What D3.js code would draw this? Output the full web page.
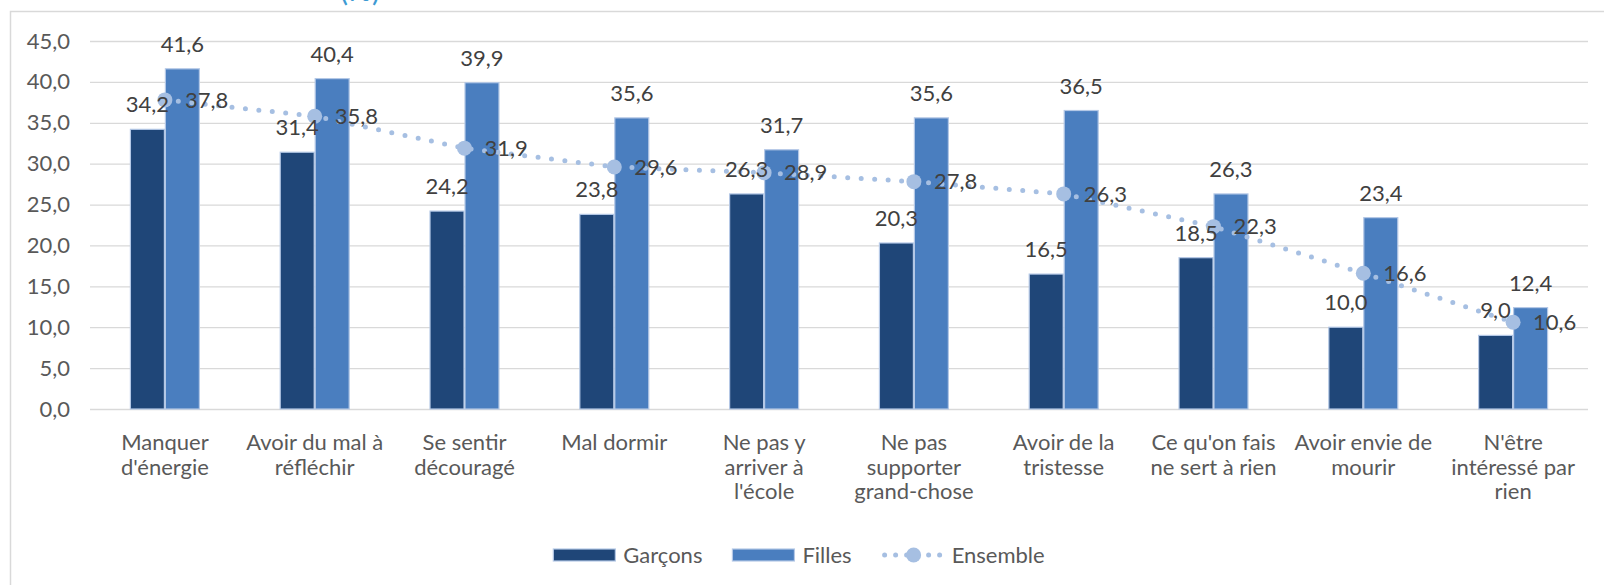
<!DOCTYPE html>
<html lang="fr">
<head>
<meta charset="utf-8">
<title>Symptômes dépressifs</title>
<script src="https://cdn.jsdelivr.net/npm/d3@7"></script>
<style>
  body { margin: 0; background: #fff; }
  svg { display: block; font-family: Lato, "Open Sans", sans-serif; }
  .grid line { stroke: #d9d9d9; stroke-width: 1.3px; }
  .axis text { fill: #595959; font-size: 22px; font-family: Lato, "Open Sans", sans-serif; }
  .lbl { fill: #404040; font-size: 22px; }
  .legend text { fill: #595959; font-size: 22px; }
</style>
</head>
<body>
<script>
var categories = [
  "Manquer\nd'énergie",
  "Avoir du mal à\nréfléchir",
  "Se sentir\ndécouragé",
  "Mal dormir",
  "Ne pas y\narriver à\nl'école",
  "Ne pas\nsupporter\ngrand-chose",
  "Avoir de la\ntristesse",
  "Ce qu'on fais\nne sert à rien",
  "Avoir envie de\nmourir",
  "N'être\nintéressé par\nrien"
];
var garcons  = [34.2, 31.4, 24.2, 23.8, 26.3, 20.3, 16.5, 18.5, 10.0, 9.0];
var filles   = [41.6, 40.4, 39.9, 35.6, 31.7, 35.6, 36.5, 26.3, 23.4, 12.4];
var ensemble = [37.8, 35.8, 31.9, 29.6, 28.9, 27.8, 26.3, 22.3, 16.6, 10.6];
var yTicks = [0, 5, 10, 15, 20, 25, 30, 35, 40, 45];
var seriesNames = ["Garçons", "Filles", "Ensemble"];

var width = 1604, height = 585;
var plotLeft = 90, plotRight = 1588, plotTop = 41, plotBottom = 409;
var colors = { "Garçons": "#1f4678", "Filles": "#4a7ebf", "Ensemble": "#a6bfe2" };
var fmt = function(v){ return d3.format(".1f")(v).replace(".", ","); };

var svg = d3.select("body").append("svg")
    .attr("width", width)
    .attr("height", height);

// frame of the chart area (cut by the window)
svg.append("rect")
    .attr("x", 10.5).attr("y", 11.5)
    .attr("width", 1700).attr("height", 700)
    .attr("fill", "none")
    .attr("stroke", "#d9d9d9")
    .attr("stroke-width", 1.5);

// title, mostly outside the picture
svg.append("text")
    .attr("x", 380).attr("y", 1)
    .attr("text-anchor", "end")
    .attr("fill", "#3d9ad3")
    .style("font-size", "30px")
    .text("(%)");

var x0 = d3.scaleBand().domain(d3.range(categories.length)).range([plotLeft, plotRight]).paddingInner(0.533).paddingOuter(0.2665);
var x1 = d3.scaleBand().domain(["Garçons", "Filles"]).range([0, x0.bandwidth()]);
var y = d3.scaleLinear().domain([0, 45]).range([plotBottom, plotTop]);

var yAxis = d3.axisLeft(y)
    .tickValues(yTicks)
    .tickSize(-(plotRight - plotLeft))
    .tickPadding(20)
    .tickFormat(fmt);

svg.append("g")
    .attr("class", "y axis grid")
    .attr("transform", "translate(" + plotLeft + ",0)")
    .call(yAxis)
    .call(function(g){ g.select(".domain").remove(); });

var xAxis = d3.axisBottom(x0).tickSize(0).tickFormat(function(i){ return categories[i]; });

svg.append("g")
    .attr("class", "x axis")
    .attr("transform", "translate(0," + plotBottom + ")")
    .call(xAxis)
    .call(function(g){ g.select(".domain").remove(); })
    .selectAll(".tick text")
    .each(function(i){
      var t = d3.select(this);
      var lines = categories[i].split("\n");
      t.text("").attr("y", 41).attr("dy", null);
      lines.forEach(function(l, k){
        t.append("tspan").attr("x", 0).attr("dy", k ? 24.5 : 0).text(l);
      });
    });

// bars
var barData = function(i){ return [{k: "Garçons", v: garcons[i]}, {k: "Filles", v: filles[i]}]; };

var groups = svg.append("g").selectAll("g")
    .data(categories.map(function(c, i){ return i; }))
    .enter().append("g")
    .attr("transform", function(i){ return "translate(" + x0(i) + ",0)"; });

groups.selectAll("rect")
    .data(barData)
    .enter().append("rect")
    .attr("x", function(d){ return x1(d.k) + 0.5; })
    .attr("y", function(d){ return y(d.v); })
    .attr("width", x1.bandwidth() - 1)
    .attr("height", function(d){ return plotBottom - y(d.v); })
    .attr("fill", function(d){ return colors[d.k]; })
    .attr("stroke", "#b4c8e6")
    .attr("stroke-width", 1.2);

// ensemble line
var cx = function(i){ return x0(i) + x0.bandwidth() / 2; };
var line = d3.line().x(function(d, i){ return cx(i); }).y(function(d){ return y(d); });

svg.append("path")
    .datum(ensemble)
    .attr("d", line)
    .attr("fill", "none")
    .attr("stroke", colors["Ensemble"])
    .attr("stroke-width", 5)
    .attr("stroke-linecap", "round")
    .attr("stroke-dasharray", "0 13.5");

svg.append("g").selectAll("circle")
    .data(ensemble)
    .enter().append("circle")
    .attr("cx", function(d, i){ return cx(i); })
    .attr("cy", function(d){ return y(d); })
    .attr("r", 7.5)
    .attr("fill", colors["Ensemble"]);

// data labels on top of everything
var labelGroups = svg.append("g").selectAll("g")
    .data(categories.map(function(c, i){ return i; }))
    .enter().append("g")
    .attr("transform", function(i){ return "translate(" + x0(i) + ",0)"; });

labelGroups.selectAll("text")
    .data(barData)
    .enter().append("text")
    .attr("class", "lbl")
    .attr("x", function(d){ return x1(d.k) + x1.bandwidth() / 2; })
    .attr("y", function(d){ return y(d.v) - 17; })
    .attr("text-anchor", "middle")
    .text(function(d){ return fmt(d.v); });

svg.append("g").selectAll("text")
    .data(ensemble)
    .enter().append("text")
    .attr("class", "lbl")
    .attr("x", function(d, i){ return cx(i) + 20; })
    .attr("y", function(d){ return y(d); })
    .attr("dy", "0.35em")
    .text(function(d){ return fmt(d); });

// legend
var legend = svg.append("g").attr("class", "legend");
var lx = 0;
seriesNames.forEach(function(name){
  var item = legend.append("g").attr("transform", "translate(" + lx + ",0)");
  if (name === "Ensemble") {
    item.append("line")
        .attr("x1", 3).attr("x2", 62).attr("y1", 0).attr("y2", 0)
        .attr("stroke", colors[name]).attr("stroke-width", 5)
        .attr("stroke-linecap", "round").attr("stroke-dasharray", "0 11");
    item.append("circle").attr("cx", 32).attr("cy", 0).attr("r", 7.5).attr("fill", colors[name]);
  } else {
    item.append("rect")
        .attr("x", 0).attr("y", -6).attr("width", 62).attr("height", 12)
        .attr("fill", colors[name]).attr("stroke", "#b4c8e6").attr("stroke-width", 1.2);
  }
  var t = item.append("text").attr("x", 70).attr("dy", "0.35em").text(name);
  lx += 70 + t.node().getComputedTextLength() + 30;
});
var legendWidth = lx - 30;
legend.attr("transform", "translate(" + (799 - legendWidth / 2) + ",555)");
</script>
</body>
</html>
